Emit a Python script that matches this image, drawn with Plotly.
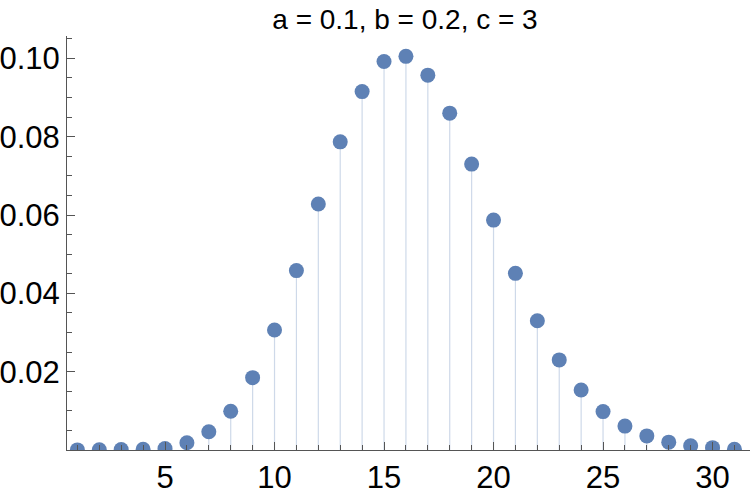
import plotly.graph_objects as go

title_text = "a = 0.1, b = 0.2, c = 3"
x_vals = list(range(1, 32))
y_vals = [0.00002, 0.00004, 0.0001, 0.0002, 0.0004, 0.00187, 0.00467, 0.00988, 0.01847,
          0.03065, 0.0458, 0.0628, 0.07867, 0.0915, 0.0992, 0.1005, 0.0957, 0.0860,
          0.0730, 0.0587, 0.0451, 0.0330, 0.0230, 0.0153, 0.0098, 0.0061, 0.0036,
          0.0020, 0.0011, 0.0006, 0.0002]
x_major_ticks = [5, 10, 15, 20, 25, 30]
y_major_ticks = [0.02, 0.04, 0.06, 0.08, 0.10]
y_minor_ticks = [0.005 * i for i in range(1, 22)]
x_minor_ticks = list(range(1, 32))

point_color = "rgb(94,129,181)"
stem_color = "rgba(94,129,181,0.3)"
font_family = "Liberation Sans, Arial, sans-serif"

stem_x, stem_y = [], []
for xv, yv in zip(x_vals, y_vals):
    stem_x += [xv, xv, None]
    stem_y += [0, yv, None]

fig = go.Figure()
fig.add_trace(go.Scatter(x=stem_x, y=stem_y, mode="lines",
                         line=dict(color=stem_color, width=1.2),
                         hoverinfo="skip", showlegend=False))
fig.add_trace(go.Scatter(x=x_vals, y=y_vals, mode="markers",
                         marker=dict(color=point_color, size=15),
                         showlegend=False))

axis_color = "#555555"
fig.update_layout(
    width=750, height=494,
    margin=dict(l=67, r=0, t=36, b=44),
    paper_bgcolor="white", plot_bgcolor="white",
    font=dict(family=font_family, color="black"),
    title=dict(text=title_text, x=405 / 750, xanchor="center", xref="container",
               y=1 - 19 / 494, yanchor="middle", yref="container",
               font=dict(size=28, family=font_family, color="black")),
    xaxis=dict(range=[0.525, 31.71], showgrid=False, zeroline=False,
               showline=True, linecolor=axis_color, linewidth=1,
               tickmode="array", tickvals=x_major_ticks,
               ticks="inside", ticklen=8, tickcolor=axis_color, tickwidth=1,
               tickfont=dict(size=31, family=font_family, color="black"),
               minor=dict(tickmode="array", tickvals=x_minor_ticks, ticks="inside",
                          ticklen=5, tickcolor=axis_color, tickwidth=1, showgrid=False)),
    yaxis=dict(range=[0, 0.1057], showgrid=False, zeroline=False,
               showline=True, linecolor=axis_color, linewidth=1,
               tickmode="array", tickvals=y_major_ticks, tickformat=".2f",
               ticks="inside", ticklen=8, tickcolor=axis_color, tickwidth=1,
               tickfont=dict(size=31, family=font_family, color="black"),
               minor=dict(tickmode="array", tickvals=y_minor_ticks, ticks="inside",
                          ticklen=5, tickcolor=axis_color, tickwidth=1, showgrid=False)),
)

fig.write_html("out.html")
